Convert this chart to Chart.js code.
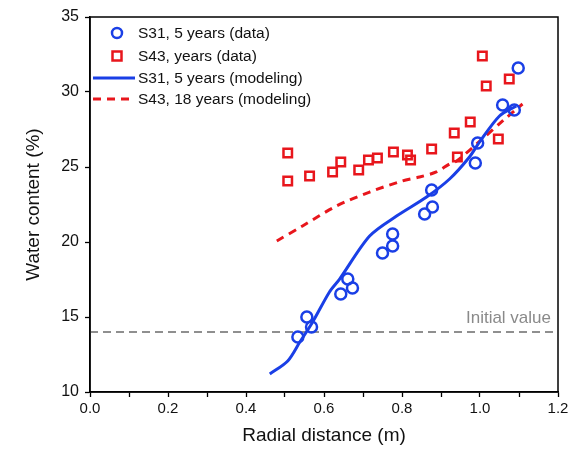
<!DOCTYPE html>
<html>
<head>
<meta charset="utf-8">
<script src="https://cdn.jsdelivr.net/npm/chart.js@4"></script>
<style>
  html, body { margin: 0; padding: 0; background: #fff; }
  #wrap { width: 576px; height: 451px; }
</style>
</head>
<body>
<div id="wrap"><canvas id="chart" width="576" height="451"></canvas></div>
<script>
// measured data, S31 (5 years) and S43
const s31DataX = [0.533, 0.556, 0.568, 0.643, 0.661, 0.673, 0.750, 0.776, 0.776, 0.858, 0.878, 0.876, 0.988, 0.994, 1.058, 1.088, 1.098];
const s31DataY = [13.67, 15.0, 14.33, 16.53, 17.53, 16.93, 19.27, 19.73, 20.53, 21.87, 22.33, 23.47, 25.27, 26.6, 29.13, 28.8, 31.6];

const s43DataX = [0.507, 0.507, 0.563, 0.622, 0.643, 0.689, 0.714, 0.737, 0.778, 0.814, 0.822, 0.876, 0.934, 0.942, 0.975, 1.006, 1.016, 1.047, 1.075];
const s43DataY = [25.93, 24.07, 24.4, 24.67, 25.33, 24.8, 25.47, 25.6, 26.0, 25.8, 25.47, 26.2, 27.27, 25.67, 28.0, 32.4, 30.4, 26.87, 30.87];

// modeling curves
const s31ModelX = [0.461, 0.507, 0.538, 0.571, 0.614, 0.640, 0.717, 0.786, 0.863, 0.922, 0.973, 0.999, 1.05, 1.093];
const s31ModelY = [11.2, 12.07, 13.33, 14.67, 16.67, 17.53, 20.4, 21.73, 23.0, 24.2, 25.67, 26.67, 28.4, 29.07];

const s43ModelX = [0.479, 0.545, 0.632, 0.717, 0.801, 0.845, 0.888, 0.922, 0.94, 1.006, 1.058, 1.109];
const s43ModelY = [20.07, 21.07, 22.4, 23.33, 24.07, 24.33, 24.67, 25.2, 25.4, 26.87, 28.07, 29.2];

const initialX = [0, 1.2];
const initialY = [14, 14];

const labels = ["S31, 5 years (data)", "S43, years (data)", "S31, 5 years (modeling)", "S43, 18 years (modeling)"];

const BLUE = "#1a3fe6";
const RED = "#e8161c";
const FONT = "'Liberation Sans', Arial, sans-serif";

function pts(xs, ys) {
  return xs.map((x, i) => ({ x: x, y: ys[i] }));
}

// box around plot + initial value label + in-plot legend
const framePlugin = {
  id: "frame",
  afterDraw(chart) {
    const ctx = chart.ctx;
    const a = chart.chartArea;
    ctx.save();
    ctx.strokeStyle = "#000";
    ctx.lineWidth = 1.5;
    ctx.strokeRect(a.left, a.top, a.right - a.left, a.bottom - a.top);

    const ys = chart.scales.y;
    ctx.fillStyle = "#8a8a8a";
    ctx.font = "17px " + FONT;
    ctx.textAlign = "right";
    ctx.textBaseline = "bottom";
    ctx.fillText("Initial value", a.right - 7, ys.getPixelForValue(initialY[0]) - 5);

    const rows = [33, 56, 78, 99];
    ctx.font = "15.5px " + FONT;
    ctx.textAlign = "left";
    ctx.textBaseline = "middle";
    chart.data.datasets.slice(0, 4).forEach((ds, i) => {
      const y = rows[i];
      ctx.strokeStyle = ds.borderColor;
      if (ds.showLine === false) {
        ctx.lineWidth = ds.pointBorderWidth;
        ctx.setLineDash([]);
        ctx.beginPath();
        if (ds.pointStyle === "rect") {
          ctx.rect(117 - 4.5, y - 4.5, 9, 9);
        } else {
          ctx.arc(117, y, 5, 0, Math.PI * 2);
        }
        ctx.stroke();
      } else {
        ctx.lineWidth = ds.borderWidth;
        ctx.setLineDash(ds.borderDash || []);
        ctx.beginPath();
        ctx.moveTo(93, y);
        ctx.lineTo(135, y);
        ctx.stroke();
      }
      ctx.setLineDash([]);
      ctx.fillStyle = "#111";
      ctx.fillText(ds.label, 138, y + 1);
    });
    ctx.restore();
  }
};

new Chart(document.getElementById("chart").getContext("2d"), {
  type: "scatter",
  data: {
    datasets: [
      {
        label: labels[0],
        data: pts(s31DataX, s31DataY),
        showLine: false,
        pointStyle: "circle",
        pointRadius: 5.5,
        pointBorderWidth: 2.5,
        borderColor: BLUE,
        backgroundColor: "rgba(0,0,0,0)",
        order: 1
      },
      {
        label: labels[1],
        data: pts(s43DataX, s43DataY),
        showLine: false,
        pointStyle: "rect",
        pointRadius: 6,
        pointBorderWidth: 2.5,
        borderColor: RED,
        backgroundColor: "rgba(0,0,0,0)",
        order: 2
      },
      {
        label: labels[2],
        data: pts(s31ModelX, s31ModelY),
        showLine: true,
        pointRadius: 0,
        borderColor: BLUE,
        borderWidth: 3,
        tension: 0.3,
        order: 3
      },
      {
        label: labels[3],
        data: pts(s43ModelX, s43ModelY),
        showLine: true,
        pointRadius: 0,
        borderColor: RED,
        borderWidth: 3,
        borderDash: [8, 6],
        tension: 0.3,
        order: 4
      },
      {
        label: "Initial value",
        data: pts(initialX, initialY),
        showLine: true,
        pointRadius: 0,
        borderColor: "#8f8f8f",
        borderWidth: 2,
        borderDash: [8, 5],
        order: 5
      }
    ]
  },
  options: {
    responsive: false,
    animation: false,
    layout: { padding: { left: 0, right: 18, top: 17, bottom: 0 } },
    plugins: {
      legend: { display: false },
      tooltip: { enabled: false }
    },
    scales: {
      x: {
        type: "linear",
        min: 0,
        max: 1.2,
        afterFit(s) { s.height = 59; },
        ticks: {
          stepSize: 0.1,
          autoSkip: false,
          maxRotation: 0,
          padding: 3,
          color: "#111",
          font: { family: FONT, size: 15 },
          callback: (v) => (Math.round(v * 10) % 2 === 0 ? v.toFixed(1) : "")
        },
        grid: { drawOnChartArea: false, tickLength: 5, color: "#000", tickWidth: 1.3 },
        border: { color: "#000", width: 1.5 },
        title: {
          display: true,
          text: "Radial distance (m)",
          color: "#111",
          font: { family: FONT, size: 19 },
          padding: { top: 4 }
        }
      },
      y: {
        min: 10,
        max: 35,
        afterFit(s) { s.width = 90; },
        ticks: {
          stepSize: 5,
          padding: 6,
          color: "#111",
          font: { family: FONT, size: 16 }
        },
        grid: { drawOnChartArea: false, tickLength: 5, color: "#000", tickWidth: 1.3 },
        border: { color: "#000", width: 1.5 },
        title: {
          display: true,
          text: "Water content (%)",
          color: "#111",
          font: { family: FONT, size: 19 },
          padding: { top: 22, bottom: 0 }
        }
      }
    }
  },
  plugins: [framePlugin]
});
</script>
</body>
</html>
